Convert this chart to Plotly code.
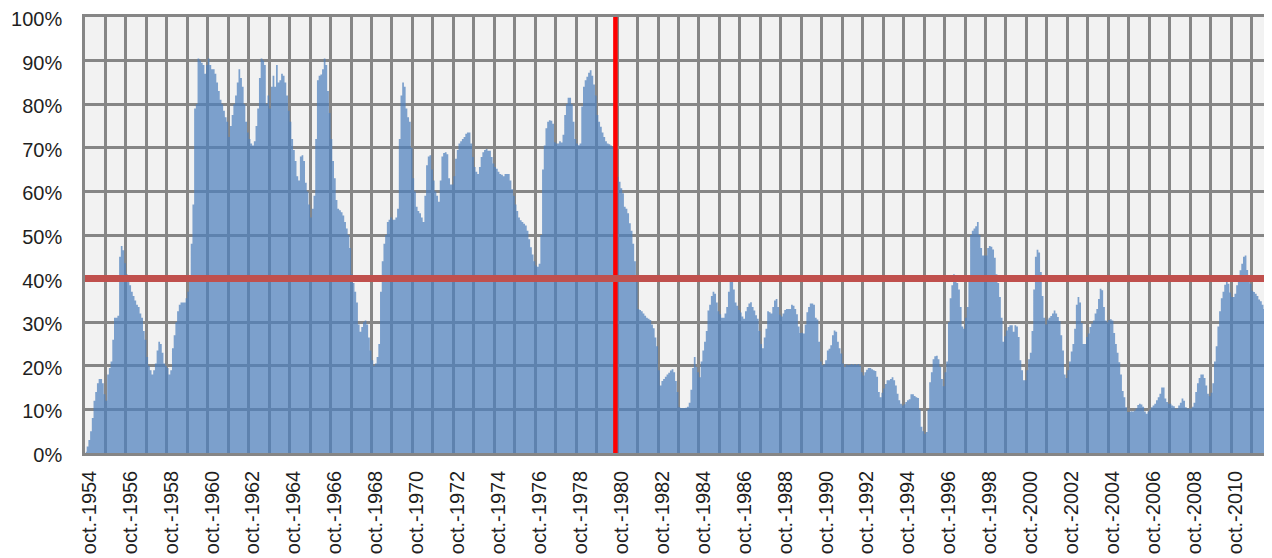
"""
Monthly share (%) from oct. 1954 to sep. 2012, drawn as a stepped area with a 40% threshold
and a vertical marker at autumn 1980.
"""
import plotly.graph_objects as go

# one row per year, oct. -> sep.
vals_1954_1959 = [
    0.3, 1.5, 3, 5, 8, 12, 14, 16, 17, 17, 16, 13.5,
    12, 18, 19.5, 21, 26, 31, 31, 31.5, 45, 47.5, 46.5, 43.5,
    41, 39.5, 38.5, 37, 36, 35, 34, 33.5, 32, 31, 28, 26,
    22, 20, 19, 18, 19, 20.5, 23.5, 25.5, 25, 23, 20.5, 20,
    19.5, 18, 19, 24, 27, 30, 32.5, 34, 34.5, 34.5, 34.5, 35.5,
    37, 40, 48, 57, 79, 80, 90.5, 90, 89.5, 89, 87, 89,
]
vals_1960s = [
    90.5, 89, 88, 88, 87, 85, 83, 81, 80, 78.5, 77, 76,
    72.5, 75, 77.5, 80, 82, 85, 88, 86, 84, 80, 76, 73.5,
    72, 71, 70.5, 71.5, 75, 79, 86, 90.5, 90, 89, 80, 82,
    79, 84, 86.5, 84, 89, 85, 85.5, 87, 86.5, 85, 82, 78.5,
    76, 72, 69.5, 67, 63.5, 62.5, 68, 68.3, 67, 62, 60, 57,
    54, 56, 59, 72, 85.5, 86.5, 86.8, 88, 90.5, 89, 83, 78,
    72, 67, 63, 58, 56, 55.7, 55.2, 54.5, 53, 51.5, 50, 47,
    41, 39, 37, 34.5, 29.5, 27.8, 28.9, 30, 30.4, 29.5, 26.5, 23.5,
    21.3, 20, 20.5, 22, 25, 37, 44, 48, 50, 53, 53.5, 54,
    53.5, 53.5, 54, 56, 72, 82, 85, 84, 79, 77, 76, 70,
]
vals_1970s = [
    63, 60, 56.5, 55.5, 55, 54, 53, 59, 66, 68, 68.3, 65,
    62.5, 60, 59, 57.6, 62.5, 68, 68.8, 69, 68.5, 63, 61.6, 61.6,
    63.5, 67.5, 69.5, 71, 71.5, 72, 72.5, 73.2, 73.5, 73.5, 71, 67.9,
    65.6, 64.5, 64, 65.6, 67.9, 69, 69.5, 69.7, 69.3, 69.3, 67.9, 66.4,
    65.6, 65.2, 64.5, 64, 63.8, 63.5, 64, 64, 64, 62.5, 60.5, 59,
    57, 55.5, 54, 53.4, 53, 52.6, 52.2, 51, 49, 47.2, 45.5, 44,
    43, 42.7, 43.4, 50, 65, 70.5, 74.5, 76, 76.3, 76.2, 75.5, 71.3,
    71, 71, 71.5, 71.2, 73, 77.5, 80, 81.5, 81.5, 80, 76, 72,
    71, 70.6, 71, 79.5, 84, 85.5, 86.3, 87.2, 87.8, 86.5, 84.5, 82,
    77.5, 76, 74.8, 73.5, 72.5, 71.5, 71, 70.8, 70.5, 70.2, 70, 68,
]
vals_1980s = [
    63.3, 62.2, 60.7, 59.6, 56.5, 56, 55, 52.7, 51, 48, 44, 40,
    33, 32.8, 32.5, 32, 31.5, 31, 30.8, 30.5, 29.5, 28.6, 26.5, 24.5,
    19, 15.5, 16.5, 17, 17.5, 18, 18.4, 18.9, 19.2, 18.5, 16.5, 14,
    10.5, 10.3, 10.3, 10.3, 10.4, 10.6, 11.5, 14.5, 19.5, 22, 19.7, 18.5,
    17.4, 21, 23.5, 25.5, 28, 32.7, 34, 36, 37, 36.5, 34.5, 32.5,
    31.8, 31, 31, 32, 33.5, 37, 40.5, 40, 37.5, 34.5, 33.8, 32.8,
    32.2, 31.3, 30.8, 32.5, 33.5, 34.3, 34.6, 33.5, 32.7, 31.6, 30.8, 28,
    25, 24, 26.5, 28.5, 32.5, 32.3, 32, 33.5, 35, 35.3, 33.5, 31.7,
    31.3, 32, 32.8, 33, 33, 33, 34, 33.8, 33, 31.8, 29, 27.5,
    27.6, 27.4, 29.5, 32.3, 33.5, 34.3, 34.3, 34, 31, 30.6, 25.5, 21,
]
vals_1990s = [
    20.1, 20.3, 21.3, 23.5, 23.9, 24.7, 27, 28.1, 27.8, 25.5, 24, 22.8,
    20.5, 19.7, 20.3, 20.1, 20.2, 20.4, 20.2, 20.4, 20.2, 20.4, 20, 18.5,
    17.8, 18.5, 19.1, 19.5, 19.5, 19.2, 19, 18.8, 17.5, 14, 12.8, 13.8,
    14.8, 15.8, 16.7, 16.7, 17, 17.4, 16.7, 15.5, 13.6, 12.1, 11.3, 10.9,
    11.2, 11.7, 12.1, 12.3, 13.5, 13.5, 13.1, 12.8, 12.6, 10, 6, 5,
    4.4, 4.8, 10, 16.2, 18.5, 21.5, 22.2, 22.3, 21.5, 19.8, 17, 15.3,
    18.5, 21, 30, 35.5, 38.5, 41, 40, 39, 37.5, 33.5, 29, 28.5,
    31, 33.5, 39.6, 50, 51, 51.5, 52, 53, 50, 47, 45.3, 45.3,
    45.3, 47, 47.5, 47.3, 46.7, 44.8, 41, 39, 35.8, 31, 25.5, 26.8,
    28.1, 28.9, 29.3, 29.3, 27.8, 29.3, 29, 26.6, 21.3, 19, 16.7, 16.7,
]
vals_2000s = [
    19, 21.5, 23, 28, 37.5, 45, 46.6, 46, 41.5, 36, 31, 29.5,
    30.6, 31, 31.4, 32, 32.7, 32, 31.2, 30.3, 27, 23.5, 18, 17.2,
    19, 21, 23.3, 25, 28.5, 34, 35.8, 34.5, 29.8, 25, 25, 26.6,
    27.4, 28.9, 29.7, 30.4, 32, 33, 35.3, 37.7, 37.3, 33.5, 30.4, 30,
    30.5, 30.7, 30.4, 27.5, 25, 23, 20.8, 18, 14.2, 12.8, 10.5, 9.4,
    9.4, 9.6, 9.5, 9.7, 10.2, 11, 11.3, 11.1, 10.6, 9.5, 9, 9.5,
    10, 10.5, 10.9, 11.3, 12.1, 12.8, 13.6, 15, 15, 12.5, 11.7, 11.3,
    11.3, 10.9, 10.7, 10.2, 10.2, 10.9, 11.5, 12.5, 12, 10.5, 10.2, 10.2,
    10.2, 10.6, 11.5, 14, 16, 17.2, 18, 18, 17.2, 15.5, 13.6, 13,
    13.8, 16, 21, 24.5, 29, 32.5, 35.5, 37, 38.6, 39.5, 38.8, 36.8,
]
vals_2010s = [
    35.8, 35.8, 36.5, 38.5, 39.6, 41.9, 43.4, 45, 45.3, 42, 39.5, 38.8,
    37.2, 36.9, 36.5, 36, 35.2, 34.8, 34, 33, 31, 28, 25.5, 24,
]

tick_labels = [
    "oct.-1954", "oct.-1956", "oct.-1958", "oct.-1960", "oct.-1962", "oct.-1964",
    "oct.-1966", "oct.-1968", "oct.-1970", "oct.-1972", "oct.-1974", "oct.-1976",
    "oct.-1978", "oct.-1980", "oct.-1982", "oct.-1984", "oct.-1986", "oct.-1988",
    "oct.-1990", "oct.-1992", "oct.-1994", "oct.-1996", "oct.-1998", "oct.-2000",
    "oct.-2002", "oct.-2004", "oct.-2006", "oct.-2008", "oct.-2010",
]

threshold = 40      # horizontal reference, %
marker_month = 310.5  # month index of the vertical marker (autumn 1980)

values = vals_1954_1959 + vals_1960s + vals_1970s + vals_1980s + vals_1990s + vals_2000s + vals_2010s
n = len(values)
months = list(range(n))
grid_color = "#868686"
font = dict(family="Liberation Sans, Arial, sans-serif", size=20, color="#1f1f1f")

fig = go.Figure()
fig.add_trace(go.Scatter(
    x=months, y=values,
    mode="lines",
    line=dict(width=0, shape="hvh"),
    fill="tozeroy",
    fillcolor="rgba(79,129,189,0.73)",
    hoverinfo="x+y",
))
fig.add_trace(go.Scatter(
    x=[marker_month, marker_month], y=[0, 100],
    mode="lines", line=dict(color="#ff0000", width=4.5),
    hoverinfo="skip",
))
fig.add_trace(go.Scatter(
    x=[-0.5, n - 0.5], y=[threshold, threshold],
    mode="lines", line=dict(color="#c0504d", width=7),
    hoverinfo="skip",
))

# the page body adds an 8px offset; the figure is sized so it fits the window exactly
fig.update_layout(
    width=1264, height=550,
    margin=dict(l=77, r=0, t=9, b=105),
    paper_bgcolor="white",
    plot_bgcolor="#f2f2f2",
    showlegend=False,
    font=font,
    xaxis=dict(
        range=[-0.5, n - 0.5],
        tickmode="array",
        tickvals=[24 * i + 2 for i in range(len(tick_labels))],
        ticktext=tick_labels,
        tickangle=-90,
        ticks="outside", ticklen=7, tickcolor="rgba(0,0,0,0)",
        ticklabeloverflow="allow",
        showgrid=False,
        minor=dict(tickvals=[m - 0.5 for m in months[::12]] + [n - 0.5],
                   showgrid=True, gridcolor=grid_color, gridwidth=2.5, ticks=""),
        showline=True, linecolor=grid_color, linewidth=2.5, mirror=True,
        zeroline=False,
        automargin=False,
        tickfont=font,
    ),
    yaxis=dict(
        range=[0, 100],
        dtick=10,
        ticksuffix="%",
        gridcolor=grid_color, gridwidth=2.5,
        showline=True, linecolor=grid_color, linewidth=2.5,
        zeroline=False,
        ticks="outside", ticklen=16, tickcolor="rgba(0,0,0,0)",
        ticklabelshift=2,
        ticklabeloverflow="allow",
        automargin=False,
        tickfont=font,
    ),
)

fig.write_html("out.html")
